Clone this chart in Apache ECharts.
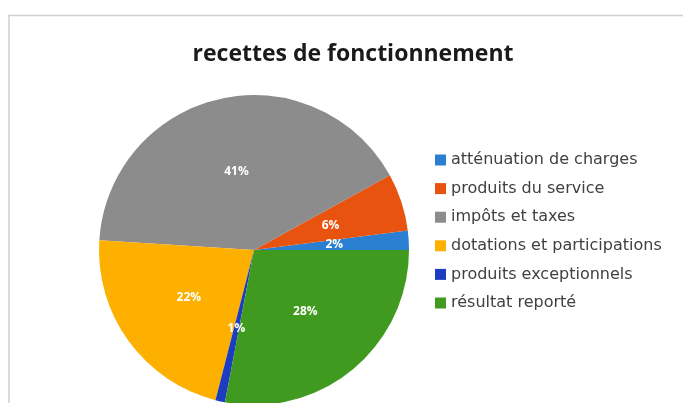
<!DOCTYPE html>
<html>
<head>
<meta charset="utf-8">
<script src="https://cdn.jsdelivr.net/npm/echarts@6/dist/echarts.min.js"></script>
<style>
html,body{margin:0;padding:0;background:#fff;}
#chart{width:683px;height:403px;}
</style>
</head>
<body>
<div id="chart"></div>
<script>
const categories = ["atténuation de charges", "produits du service", "impôts et taxes", "dotations et participations", "produits exceptionnels", "résultat reporté"];
const values = [2, 6, 41, 22, 1, 28];
const colors = ["#2b7fd3", "#e8530f", "#8c8c8c", "#fdb000", "#1c3dbf", "#3f9a1f"];
const titleText = "recettes de fonctionnement";

const chart = echarts.init(document.getElementById('chart'));
chart.setOption({
  animation: false,
  backgroundColor: '#ffffff',
  color: colors,
  graphic: [{
    type: 'polyline', silent: true,
    shape: { points: [[9, 403], [9, 15.5], [683, 15.5]] },
    style: { stroke: '#d0d0d0', lineWidth: 1.5, fill: null }
  }, {
    type: 'text', silent: true,
    x: 353, y: 54,
    style: {
      text: titleText, align: 'center', verticalAlign: 'middle',
      font: 'bold 23px "Open Sans"', fill: '#1a1a1a'
    }
  }],
  legend: {
    orient: 'vertical', left: 435, top: 152, padding: 0,
    icon: 'rect', itemWidth: 11, itemHeight: 11, itemGap: 12.6,
    data: categories,
    textStyle: { fontFamily: 'DejaVu Sans', fontSize: 16, color: '#404040' }
  },
  series: [{
    type: 'pie',
    center: [254, 250],
    radius: 155,
    startAngle: 0,
    clockwise: false,
    avoidLabelOverlap: false,
    itemStyle: { borderWidth: 0 },
    label: {
      show: true, position: 'inside',
      formatter: p => Math.round(p.percent) + '%',
      color: '#ffffff', fontWeight: 'bold', fontSize: 12, fontFamily: 'Open Sans'
    },
    labelLine: { show: false },
    emphasis: { disabled: true },
    data: categories.map((c, i) => ({ name: c, value: values[i] }))
  }]
});
</script>
</body>
</html>
